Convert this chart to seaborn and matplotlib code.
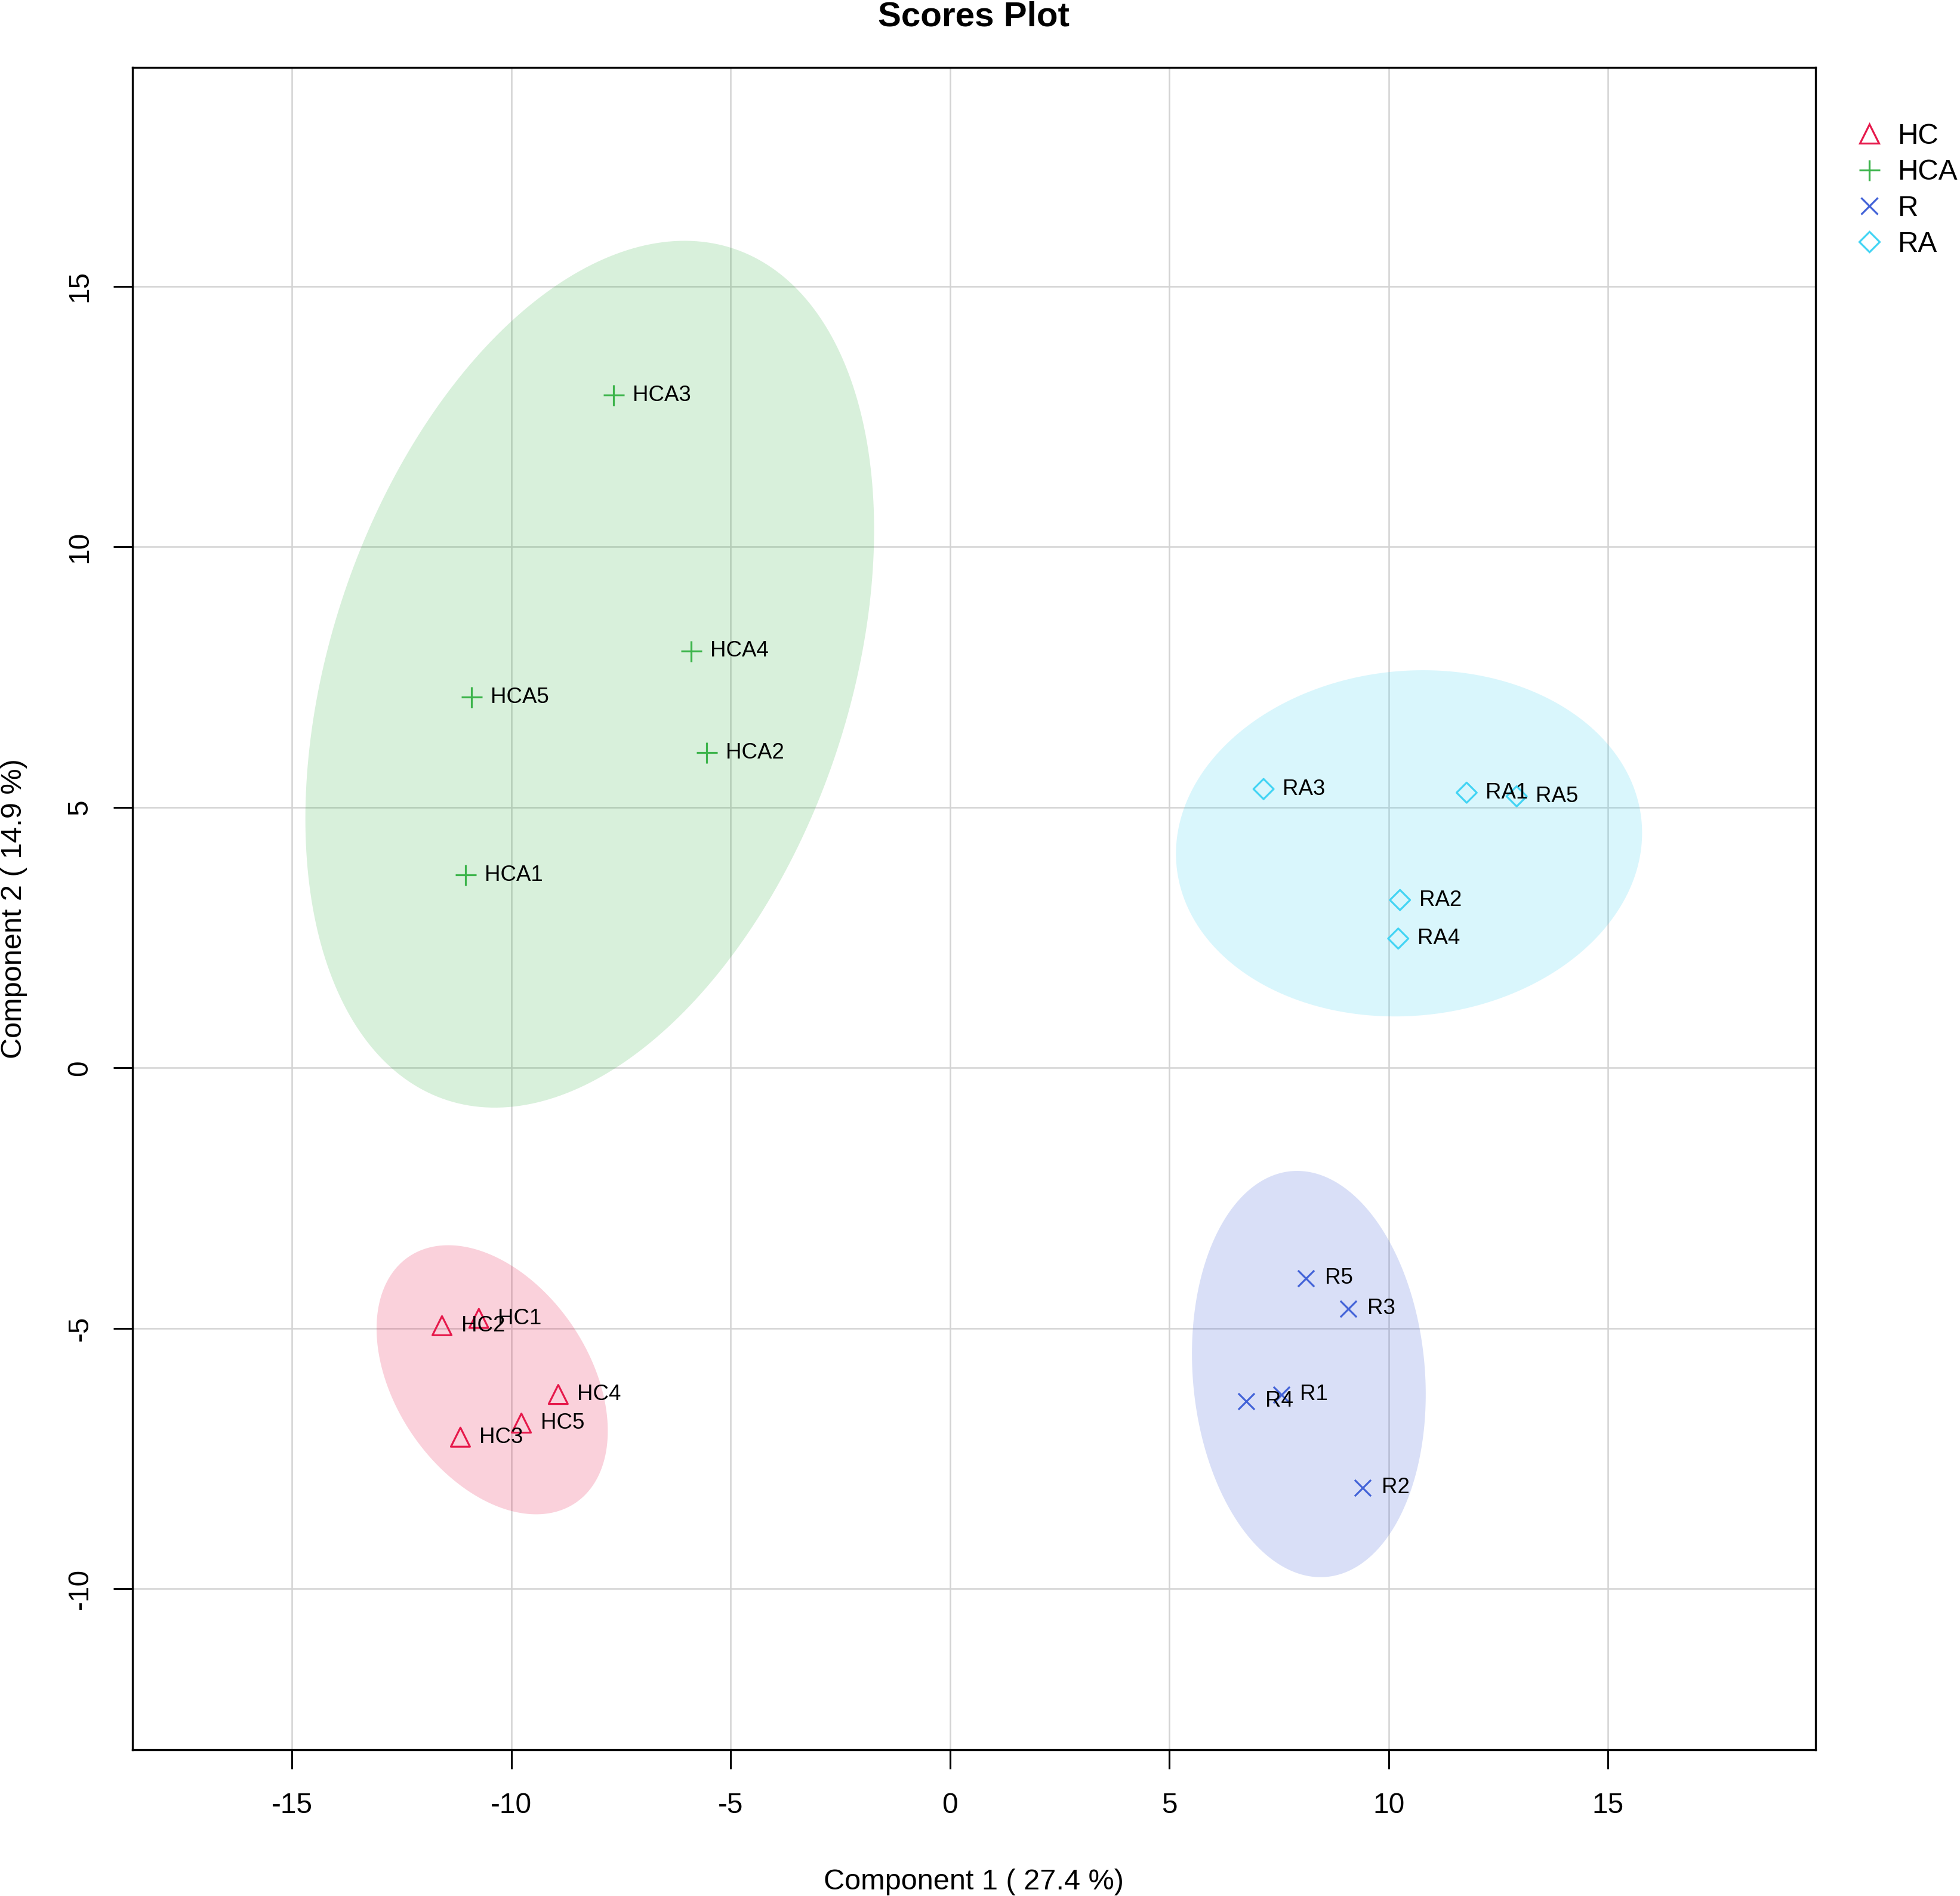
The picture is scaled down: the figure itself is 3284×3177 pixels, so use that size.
import numpy as np
import pandas as pd
import matplotlib
matplotlib.use("Agg")
import matplotlib.pyplot as plt
from matplotlib.lines import Line2D
import seaborn as sns

# ---------------- data ----------------
groups = ["HC", "HCA", "R", "RA"]
group_colors = ["#e6194B", "#3cb44b", "#4363d8", "#42d4f4"]

hc_names = ["HC1", "HC2", "HC3", "HC4", "HC5"]
hc_pc1 = [-10.74, -11.58, -11.16, -8.93, -9.77]
hc_pc2 = [-4.81, -4.95, -7.09, -6.27, -6.82]

hca_names = ["HCA1", "HCA2", "HCA3", "HCA4", "HCA5"]
hca_pc1 = [-11.04, -5.54, -7.67, -5.90, -10.91]
hca_pc2 = [3.70, 6.05, 12.91, 8.00, 7.11]

r_names = ["R1", "R2", "R3", "R4", "R5"]
r_pc1 = [7.55, 9.41, 9.08, 6.76, 8.11]
r_pc2 = [-6.27, -8.06, -4.62, -6.40, -4.04]

ra_names = ["RA1", "RA2", "RA3", "RA4", "RA5"]
ra_pc1 = [11.78, 10.26, 7.15, 10.22, 12.92]
ra_pc2 = [5.28, 3.22, 5.35, 2.48, 5.21]

x_ticks = [-15, -10, -5, 0, 5, 10, 15]
y_ticks = [-10, -5, 0, 5, 10, 15]
x_label = "Component 1 ( 27.4 %)"
y_label = "Component 2 ( 14.9 %)"
title = "Scores Plot"

df = pd.DataFrame({
    "sample": hc_names + hca_names + r_names + ra_names,
    "pc1": hc_pc1 + hca_pc1 + r_pc1 + ra_pc1,
    "pc2": hc_pc2 + hca_pc2 + r_pc2 + ra_pc2,
    "group": ["HC"] * 5 + ["HCA"] * 5 + ["R"] * 5 + ["RA"] * 5,
})

# ---------------- style ----------------
sns.set_style("white")
plt.rcParams["font.family"] = ["Liberation Sans", "DejaVu Sans"]
plt.rcParams["text.color"] = "black"
plt.rcParams["axes.labelcolor"] = "black"
plt.rcParams["xtick.color"] = "black"
plt.rcParams["ytick.color"] = "black"

markers = {"HC": "^", "HCA": "+", "R": "x", "RA": "D"}
msize = {"HC": 11.5, "HCA": 12.6, "R": 9.8, "RA": 8.6}
filled_outline = {"HC": True, "HCA": False, "R": False, "RA": True}
palette = dict(zip(groups, group_colors))


def conf_ellipse(x, y, level=0.95, n=300):
    pts = np.column_stack([x, y])
    mu = pts.mean(axis=0)
    cov = np.cov(pts, rowvar=False)
    r = np.sqrt(-2.0 * np.log(1.0 - level))  # sqrt(qchisq(level, 2))
    vals, vecs = np.linalg.eigh(cov)
    t = np.linspace(0, 2 * np.pi, n)
    circ = np.vstack([np.cos(t), np.sin(t)])
    ell = vecs @ (np.sqrt(vals)[:, None] * circ) * r
    return mu[0] + ell[0], mu[1] + ell[1]


W, H, DPI = 3284, 3177, 200
fig = plt.figure(figsize=(W / DPI, H / DPI), dpi=DPI)
ax = fig.add_axes([221.7 / W, 1 - 2932 / H, (3041.7 - 221.7) / W, (2932 - 113) / H])

# grid
ax.set_axisbelow(True)
ax.grid(True, color="#D3D3D3", lw=0.9, zorder=0)

# ellipses (95% confidence, computed from each group's scores)
for g in groups:
    sub = df[df.group == g]
    ex, ey = conf_ellipse(sub.pc1.values, sub.pc2.values)
    ax.fill(ex, ey, color=palette[g], alpha=0.2, lw=0, zorder=1)

# points
for g in groups:
    sub = df[df.group == g]
    c = palette[g]
    if filled_outline[g]:
        sns.scatterplot(data=sub, x="pc1", y="pc2", marker=markers[g], s=msize[g] ** 2,
                        facecolor="none", edgecolor=c, linewidth=1.15, ax=ax, zorder=3,
                        legend=False)
    else:
        sns.scatterplot(data=sub, x="pc1", y="pc2", marker=markers[g], s=msize[g] ** 2,
                        color=c, linewidth=1.15, ax=ax, zorder=3, legend=False)

# sample labels
for _, row in df.iterrows():
    ax.annotate(row["sample"], (row.pc1, row.pc2), xytext=(11.5, 0),
                textcoords="offset points", ha="left", va="center",
                fontsize=13.2, color="black", zorder=4)

ax.set_xlim(-18.64, 19.73)
ax.set_ylim(-13.09, 19.2)
ax.set_xticks(x_ticks)
ax.set_yticks(y_ticks)
ax.set_xticklabels([str(v) for v in x_ticks])
ax.set_yticklabels([str(v) for v in y_ticks], rotation=90, va="center")

for sp in ax.spines.values():
    sp.set_visible(True)
    sp.set_color("black")
    sp.set_linewidth(1.2)

ax.tick_params(axis="both", which="major", length=11.5, width=1.1, color="black",
               labelsize=17.2, labelcolor="black", direction="out")
ax.tick_params(axis="x", pad=14, bottom=True)
ax.tick_params(axis="y", pad=12, left=True)

ax.set_xlabel(x_label, fontsize=17.5, va="center", color="black")
ax.xaxis.set_label_coords(0.5, -(3154 - 2932) / (2932 - 113))
ax.set_ylabel(y_label, fontsize=17.5, va="center", color="black")
ax.yaxis.set_label_coords(-(221.7 - 24) / (3041.7 - 221.7), 0.5)

ax.set_title(title, fontsize=21, fontweight="bold", pad=25, color="black")

# legend
handles = []
for g in groups:
    c = palette[g]
    if filled_outline[g]:
        h = Line2D([], [], ls="none", marker=markers[g], markersize=msize[g],
                   markerfacecolor="none", markeredgecolor=c, markeredgewidth=1.15)
    else:
        h = Line2D([], [], ls="none", marker=markers[g], markersize=msize[g],
                   color=c, markeredgewidth=1.15)
    handles.append(h)
leg = fig.legend(handles, groups, loc="upper left",
                 bbox_to_anchor=(3107.7 / W, 1 - 206 / H), frameon=False,
                 fontsize=17.2, handlelength=1.0, handletextpad=0.5,
                 labelspacing=0.32, borderpad=0, borderaxespad=0)
for t in leg.get_texts():
    t.set_color("black")

fig.savefig("out.png", dpi=DPI)
